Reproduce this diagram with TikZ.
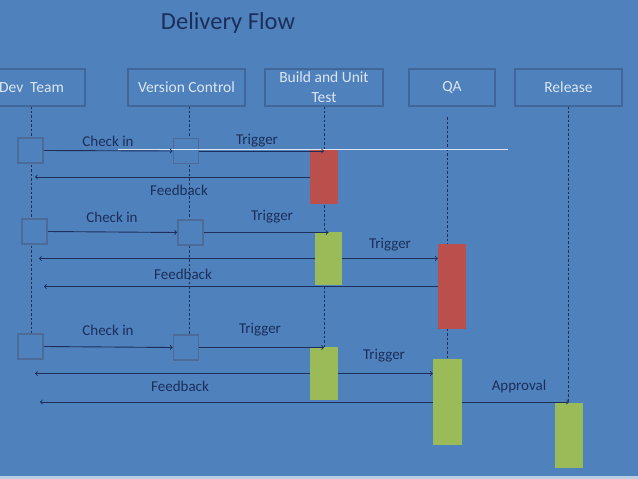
\documentclass[tikz,border=0pt]{standalone}
\usepackage{fontspec}
\setmainfont{Carlito}
\usetikzlibrary{backgrounds}
\definecolor{slidebg}{HTML}{4F81BD}
\definecolor{slideedge}{HTML}{B9CDE5}
\definecolor{navy}{HTML}{1B2F5A}
\definecolor{headline}{HTML}{41669A}
\definecolor{headtext}{HTML}{DCE6F2}
\definecolor{sqline}{HTML}{4C6B98}
\definecolor{failred}{HTML}{BA4F4C}
\definecolor{passgreen}{HTML}{9BBB59}
\tikzset{
  head/.style={draw=headline, line width=1.6pt, text=headtext, minimum height=37pt,
    inner sep=1pt, align=center, font=\fontsize{15.5}{20}\selectfont},
  lbl/.style={text=navy, font=\fontsize{15}{17}\selectfont, inner sep=0pt},
  square/.style={draw=sqline, fill=slidebg, line width=1.8pt, minimum size=25pt, inner sep=0pt},
  failbar/.style={fill=failred, minimum width=28pt, inner sep=0pt},
  passbar/.style={fill=passgreen, minimum width=28pt, inner sep=0pt},
  life/.style={navy, line width=0.8pt, dash pattern=on 2.5pt off 2pt},
  msg/.style={->, navy, line width=0.9pt},
}

\begin{document}
\begin{tikzpicture}[x=1pt, y=-1pt]
	\useasboundingbox (0,0) rectangle (638,479);
	\clip (0,0) rectangle (638,479);

	% Title and lifeline heads
	\node[text=navy, font=\fontsize{24.5}{28}\selectfont] (title) at (228,23) {Delivery Flow};
	\node[head, minimum width=107pt] (dev) at (31.5,87.5) {Dev~ Team};
	\node[head, minimum width=117pt] (vc) at (186.5,87.5) {Version Control};
	\node[head, minimum width=118pt] (build) at (324,87.5) {Build and Unit\\Test};
	\node[head, minimum width=86pt] (qa) at (452,87.5) {QA};
	\node[head, minimum width=107pt] (rel) at (568.5,87.5) {Release};

	% Activations
	\node[square] (dev1) at (30.5,150.5) {};
	\node[square] (vc1) at (186,151) {};
	\node[square] (dev2) at (34.5,231.5) {};
	\node[square] (vc2) at (190.5,232.5) {};
	\node[square] (dev3) at (30.5,346.5) {};
	\node[square] (vc3) at (186,347.5) {};
	\node[failbar, minimum height=54pt] (bld1) at (324,177) {};
	\node[passbar, minimum height=53pt, minimum width=27pt] (bld2) at (328.5,258.5) {};
	\node[failbar, minimum height=85pt] (qa1) at (452,286.5) {};
	\node[passbar, minimum height=53pt] (bld3) at (324,373.5) {};
	\node[passbar, minimum height=86pt, minimum width=29pt] (qa2) at (447.5,402) {};
	\node[passbar, minimum height=65pt] (rel1) at (569,435.5) {};

	% Lifelines
	\coordinate (devx) at (31,106);
	\coordinate (vcx) at (189,106);
	\coordinate (bldx) at (324,106);
	\coordinate (qax) at (447,117);
	\coordinate (relx) at (568,106);
	\begin{scope}[on background layer]
		\fill[slidebg] (0,0) rectangle (638,479);
		\fill[slideedge] (0,476) rectangle (638,479);
		\draw[life] (devx) -- (devx |- dev3.north);
		\draw[life] (vcx) -- (vcx |- vc3.north);
		\draw[life] (bldx) -- (bldx |- bld3.north);
		\draw[life] (qax) -- (qax |- qa2.north);
		\draw[life] (relx) -- (relx |- rel1.north);
	\end{scope}

	% Ends of the returning messages
	\coordinate (back1) at (35,0);
	\coordinate (back2) at (39,0);
	\coordinate (back3) at (44,0);
	\coordinate (back4) at (35,0);
	\coordinate (back5) at (40,0);

	% Messages
	\draw[headtext, line width=1pt] (118,149) -- (508,149);
	\draw[msg] (dev1.east) -- (vc1.west);
	\draw[msg] (vc1.east) -- (vc1 -| bld1);
	\draw[msg] (bld1.west) -- (bld1.west -| back1);
	\draw[msg] (dev2.east) -- (vc2.west);
	\draw[msg] (vc2.east) -- (vc2 -| bld2);
	\draw[msg] (bld2.west) -- (bld2.west -| back2);
	\draw[msg] (bld2.east) -- (bld2.east -| qa1.west);
	\draw[msg] (qa1.west) -- (qa1.west -| back3);
	\draw[msg] (dev3.east) -- (vc3.west);
	\draw[msg] (vc3.east) -- (vc3 -| bld3);
	\draw[msg] (bld3.west) -- (bld3.west -| back4);
	\draw[msg] (bld3.east) -- (bld3.east -| qa2.west);
	\draw[msg] (qa2.west) -- (qa2.west -| back5);
	\draw[msg] (qa2.east) -- (qa2.east -| rel1);

	% Message labels
	\node[lbl] (chk1) at (108,141) {Check in};
	\node[lbl] (trg1) at (257,141) {Trigger};
	\node[lbl] (fbk1) at (179,190) {Feedback};
	\node[lbl] (chk2) at (112,217) {Check in};
	\node[lbl] (trg2) at (272,217) {Trigger};
	\node[lbl] (trg3) at (390,245) {Trigger};
	\node[lbl] (fbk2) at (183,274) {Feedback};
	\node[lbl] (chk3) at (108,330) {Check in};
	\node[lbl] (trg4) at (260,330) {Trigger};
	\node[lbl] (trg5) at (384,356) {Trigger};
	\node[lbl] (fbk3) at (180,386) {Feedback};
	\node[lbl] (apr1) at (519,386) {Approval};
\end{tikzpicture}
\end{document}
